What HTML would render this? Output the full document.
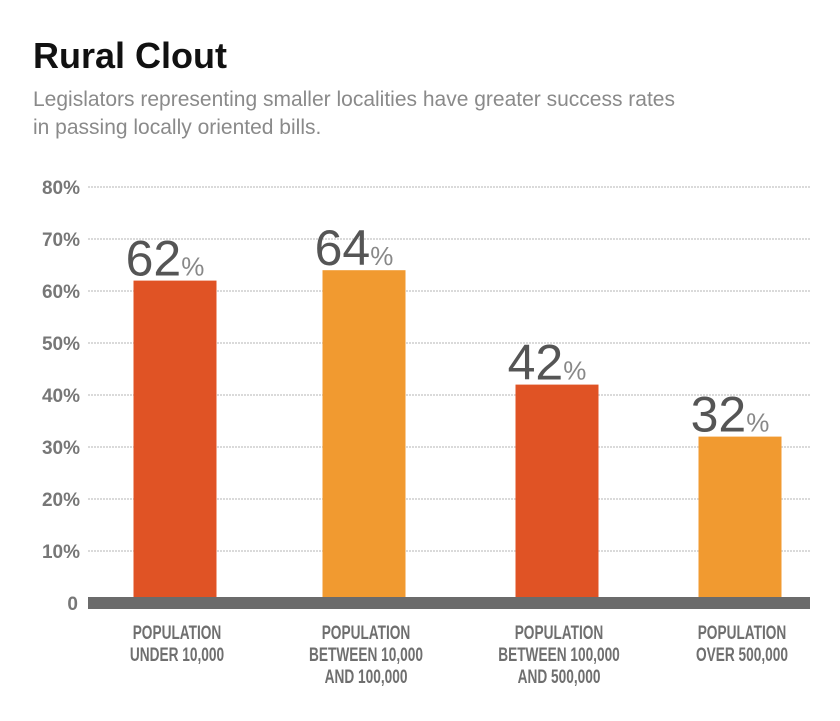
<!DOCTYPE html>
<html><head><meta charset="utf-8">
<style>
body{margin:0;background:#fff;width:840px;height:716px;overflow:hidden;font-family:"Liberation Sans",sans-serif}
</style></head>
<body>
<svg width="840" height="716" xmlns="http://www.w3.org/2000/svg">
<text x="33" y="68" font-family="Liberation Sans Narrow, Liberation Sans, sans-serif" font-weight="bold" font-size="36" fill="#111">Rural Clout</text>
<text x="33" y="106" font-size="21" fill="#8a8a8a">Legislators representing smaller localities have greater success rates</text>
<text x="33" y="134" font-size="21" fill="#8a8a8a">in passing locally oriented bills.</text>
<g id="grid"></g>
<g id="bars"></g>
<rect x="88" y="597" width="722" height="12" fill="#6b6b6b"/>
<text x="78" y="610" text-anchor="end" font-weight="bold" font-size="19" fill="#777">0</text>
<g id="xlabels"></g>
</svg>
<script>
const categories=[["POPULATION","UNDER 10,000"],["POPULATION","BETWEEN 10,000","AND 100,000"],["POPULATION","BETWEEN 100,000","AND 500,000"],["POPULATION","OVER 500,000"]];
const values=[62,64,42,32];
const colors=["#e05325","#f19a30","#e05325","#f19a30"];
const ticks=[10,20,30,40,50,60,70,80];
const tickLabels=["10%","20%","30%","40%","50%","60%","70%","80%"];
const NS="http://www.w3.org/2000/svg";
const y=v=>603-v*5.2;
const centers=[175,364,557,740];
const bw=83;
function mk(t,a,p){const e=document.createElementNS(NS,t);for(const k in a)e.setAttribute(k,a[k]);p.appendChild(e);return e;}
const grid=document.getElementById('grid');
ticks.forEach((t,i)=>{
 const l=mk('line',{x1:88,x2:810,y1:y(t),y2:y(t),stroke:'#b5b5b5','stroke-width':1,'stroke-dasharray':'2,1'},grid);
 
 
 const tx=mk('text',{x:80,y:y(t)+7,'text-anchor':'end','font-weight':'bold','font-size':19,fill:'#777'},grid);
 tx.textContent=tickLabels[i];
 
 
});
const bars=document.getElementById('bars');
values.forEach((v,i)=>{
 const r=mk('rect',{x:centers[i]-bw/2,y:y(v),width:bw,height:603-y(v),fill:colors[i]},bars);
 
 
 const t=mk('text',{x:centers[i]-10,y:y(v)-5,'text-anchor':'middle','font-size':50,fill:'#555'},bars);
 t.textContent=v;
 const p=mk('tspan',{'font-size':26,fill:'#888'},t);
 p.textContent='%';
 
 
});
const xl=document.getElementById('xlabels');
categories.forEach((c,i)=>{
 c.forEach((line,j)=>{
  const g=mk('g',{transform:'translate('+(centers[i]+2)+','+(639+j*22)+') scale(0.72,1)'},xl);
  const t=mk('text',{x:0,y:0,'text-anchor':'middle','font-weight':'bold','font-size':19,fill:'#6f6f6f'},g);
  t.textContent=line;
  
  
 });
});
</script>
</body></html>
